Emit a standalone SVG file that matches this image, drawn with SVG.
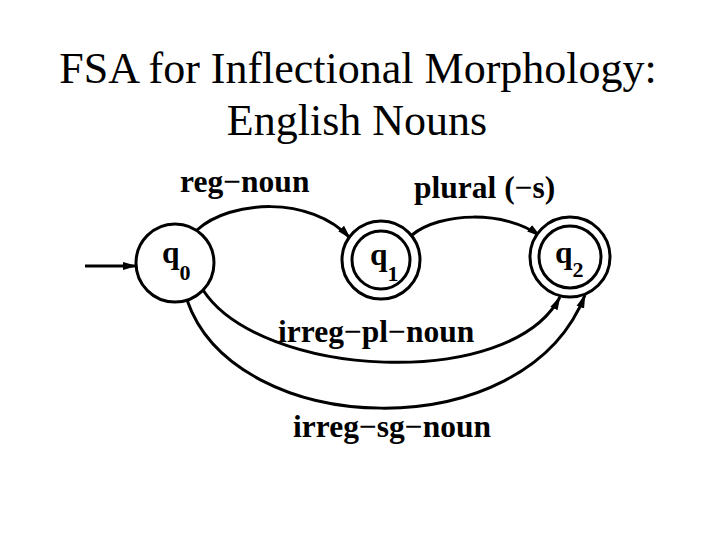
<svg xmlns="http://www.w3.org/2000/svg" width="720" height="540" viewBox="0 0 720 540">
<style>
.title{font-family:"Liberation Serif","Times New Roman",serif;font-size:44px;fill:#000;text-anchor:middle}
.lbl{font-family:"Liberation Serif","Times New Roman",serif;font-weight:bold;font-size:31.5px;fill:#000}
.st{fill:#fff;stroke:#000;stroke-width:3}
.edge{fill:none;stroke:#000;stroke-width:3;marker-end:url(#arr)}
</style>
<defs>
<marker id="arr" markerUnits="userSpaceOnUse" markerWidth="14" markerHeight="10" viewBox="0 0 14 10" refX="13" refY="5" orient="auto">
<path d="M0,1 L14,5 L0,9 Z" fill="#000"/>
</marker>
</defs>
<rect width="720" height="540" fill="#fff"/>
<text class="title" x="358" y="83">FSA for Inflectional Morphology:</text>
<text class="title" x="357" y="135">English Nouns</text>
<g id="edges">
<path class="edge" d="M85,266 L136,266"/>
<path class="edge" d="M197,230 C230,200 310,195 350,238"/>
<path class="edge" d="M412,235 C440,212 505,210 540,236"/>
<path class="edge" d="M203,290 C260,378 510,392 560,297"/>
<path class="edge" d="M187,300 C235,440 525,450 585,295"/>
</g>
<g id="q0">
<circle class="st" cx="175" cy="263" r="39"/>
<text class="lbl" x="162" y="263" font-size="33">q<tspan font-size="22" dy="17">0</tspan></text>
</g>
<g id="q1">
<circle class="st" cx="381" cy="260" r="39"/>
<circle class="st" cx="381" cy="260" r="29"/>
<text class="lbl" x="370" y="265" font-size="33">q<tspan font-size="22" dy="16">1</tspan></text>
</g>
<g id="q2">
<circle class="st" cx="570" cy="257" r="40"/>
<circle class="st" cx="570" cy="257" r="31"/>
<text class="lbl" x="555" y="263" font-size="33">q<tspan font-size="22" dy="14">2</tspan></text>
</g>
<g id="labels">
<text class="lbl" x="180" y="192">reg−noun</text>
<text class="lbl" x="414" y="198">plural (−s)</text>
<text class="lbl" x="278" y="342">irreg−pl−noun</text>
<text class="lbl" x="293" y="437">irreg−sg−noun</text>
</g>
</svg>
